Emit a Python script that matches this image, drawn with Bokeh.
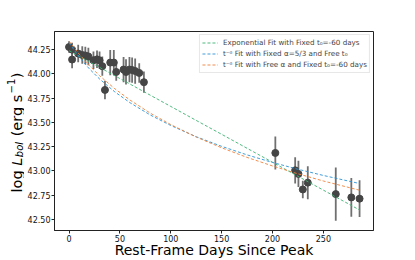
import math
from bokeh.plotting import figure
from bokeh.layouts import row
from bokeh.models import Label, Legend, LegendItem, FixedTicker, Range1d
from bokeh.embed import file_html
from bokeh.resources import INLINE

# ---- data ----
t_days = [0, 3, 3, 9, 13, 16, 19, 24, 27.5, 30, 32.7, 35.3, 40.5, 44, 46.4,
          53.6, 56, 59.4, 62, 65, 69, 73.6, 202.8, 222.3, 225.5, 229.8, 234.7,
          262.2, 277.5, 285.6]
log_l = [44.277, 44.25, 44.148, 44.21, 44.195, 44.19, 44.18, 44.14, 44.15,
         44.14, 44.08, 43.835, 44.117, 44.117, 44.02, 44.045, 44.02, 44.045,
         44.04, 44.03, 44.01, 43.915, 43.186, 43.007, 42.97, 42.81, 42.88,
         42.762, 42.728, 42.715]
log_l_err = [0.06, 0.07, 0.09, 0.09, 0.09, 0.09, 0.09, 0.09, 0.09, 0.09, 0.1,
             0.095, 0.13, 0.13, 0.09, 0.13, 0.13, 0.13, 0.13, 0.13, 0.1, 0.11,
             0.17, 0.135, 0.135, 0.09, 0.17, 0.275, 0.2, 0.19]

fit_t = [0, 10, 20, 30, 45, 60, 80, 100, 125, 150, 175, 200, 225, 250, 286]
fit_exp = [44.240, 44.183, 44.125, 44.068, 43.981, 43.895, 43.780, 43.665,
           43.521, 43.378, 43.234, 43.090, 42.946, 42.803, 42.596]
fit_fixed_alpha = [44.320, 44.174, 44.052, 43.948, 43.815, 43.703, 43.576,
                   43.469, 43.353, 43.254, 43.166, 43.088, 43.018, 42.954, 42.870]
fit_free_alpha = [44.338, 44.203, 44.086, 43.982, 43.847, 43.730, 43.595,
                  43.478, 43.350, 43.239, 43.140, 43.052, 42.971, 42.897, 42.801]

fit_labels = ["Exponential Fit with Fixed t\u2080=-60 days",
              "t\u207b\u1d45 Fit with Fixed \u03b1=5/3 and Free t\u2080",
              "t\u207b\u1d45 Fit with Free \u03b1 and Fixed t\u2080=-60 days"]

x_ticks = [0, 50, 100, 150, 200, 250]
y_ticks = [42.5, 42.75, 43.0, 43.25, 43.5, 43.75, 44.0, 44.25]
y_tick_labels = ["42.50", "42.75", "43.00", "43.25", "43.50", "43.75", "44.00", "44.25"]
x_label = "Rest-Frame Days Since Peak"

FONT = "DejaVu Sans"
YLAB_W = 24
MAIN_W, MAIN_H = 415 - YLAB_W, 260

p = figure(width=MAIN_W, height=MAIN_H, output_backend="svg", toolbar_location=None,
           x_range=Range1d(-14.3, 299.3), y_range=Range1d(42.387, 44.437),
           min_border_left=52 - YLAB_W, min_border_right=42, min_border_top=31,
           min_border_bottom=29)
p.background_fill_color = "white"
p.border_fill_color = "white"
p.grid.visible = False
p.outline_line_color = "#222222"
p.outline_line_width = 1

for ax in (p.xaxis[0], p.yaxis[0]):
    ax.axis_line_color = "#222222"
    ax.axis_line_width = 1
    ax.major_tick_line_color = "#222222"
    ax.major_tick_out = 3
    ax.major_tick_in = 0
    ax.minor_tick_line_color = None
    ax.major_label_text_font = FONT
    ax.major_label_text_font_size = "8px"
    ax.major_label_text_color = "#111111"
    ax.major_label_standoff = 1
    ax.axis_label = None

xa = p.xaxis[0]
xa.major_label_standoff = 1
xa.axis_label = x_label
xa.axis_label_text_font = FONT
xa.axis_label_text_font_size = "14px"
xa.axis_label_text_font_style = "normal"
xa.axis_label_text_color = "black"
xa.axis_label_standoff = -3

p.xaxis.ticker = FixedTicker(ticks=x_ticks)
p.yaxis.ticker = FixedTicker(ticks=y_ticks)
p.yaxis.major_label_overrides = {v: s for v, s in zip(y_ticks, y_tick_labels)}

# error bars and points
lo = [v - e for v, e in zip(log_l, log_l_err)]
hi = [v + e for v, e in zip(log_l, log_l_err)]
p.segment(x0=t_days, y0=lo, x1=t_days, y1=hi, line_color="#707070", line_width=1.8)
p.scatter(t_days, log_l, size=7, fill_color="#454545", line_color="#454545")

# fits
colors = ["#3cb371", "#2b93d6", "#f0823c"]
renderers = []
for ys, c in zip([fit_exp, fit_fixed_alpha, fit_free_alpha], colors):
    r = p.line(fit_t, ys, line_color=c, line_width=1, line_dash="3 2", line_alpha=0.9)
    renderers.append(r)

legend = Legend(items=[LegendItem(label=l, renderers=[r]) for l, r in zip(fit_labels, renderers)],
                location="top_right", margin=3, padding=2, spacing=0,
                label_height=11, glyph_height=11, glyph_width=16, label_standoff=5,
                label_text_font=FONT, label_text_font_size="7.2px",
                border_line_color="#d0d0d0", border_line_width=1,
                background_fill_color="white", background_fill_alpha=0.85)
p.add_layout(legend)

# y axis label figure: log L_bol (erg s^-1), built from pieces
yf = figure(width=YLAB_W, height=260, output_backend="svg", toolbar_location=None,
            x_axis_type=None, y_axis_type=None, min_border=0,
            x_range=Range1d(0, 1), y_range=Range1d(0, 1))
yf.outline_line_color = None
yf.grid.visible = False
yf.background_fill_color = "white"
yf.border_fill_color = "white"

W = {'l': .278, 'o': .612, 'g': .635, ' ': .318, 'L': .557, 'b': .635, '(': .390,
     'e': .615, 'r': .411, 's': .521, '\u2212': .838, '1': .636, ')': .390}
def tw(s, fs):
    return sum(W[c] for c in s) * fs

base_x = 16.0
pieces = [  # text, size, style, x shift, gap after
    ("log", 14.5, "normal", 0, 0.318 * 14.5),
    ("L", 14.5, "italic", 0, 0.5),
    ("bol", 10, "italic", 3, 0.318 * 14.5 + 1),
    ("(erg s", 14.5, "normal", 0, 1),
    ("\u22121", 10, "normal", -5.5, 0.5),
    (")", 14.5, "normal", 0, 0),
]
y_cur = 192
for txt, fs, style, dx, gap in pieces:
    yf.add_layout(Label(x=base_x + dx, y=y_cur, x_units="canvas", y_units="canvas",
                        text=txt, angle=math.pi / 2, text_font=FONT,
                        text_font_size=f"{fs}px", text_font_style=style,
                        text_align="left", text_baseline="alphabetic",
                        text_color="black"))
    y_cur -= tw(txt, fs) + gap

layout = row(yf, p, spacing=0)
open("out.html", "w").write(file_html(layout, INLINE))
